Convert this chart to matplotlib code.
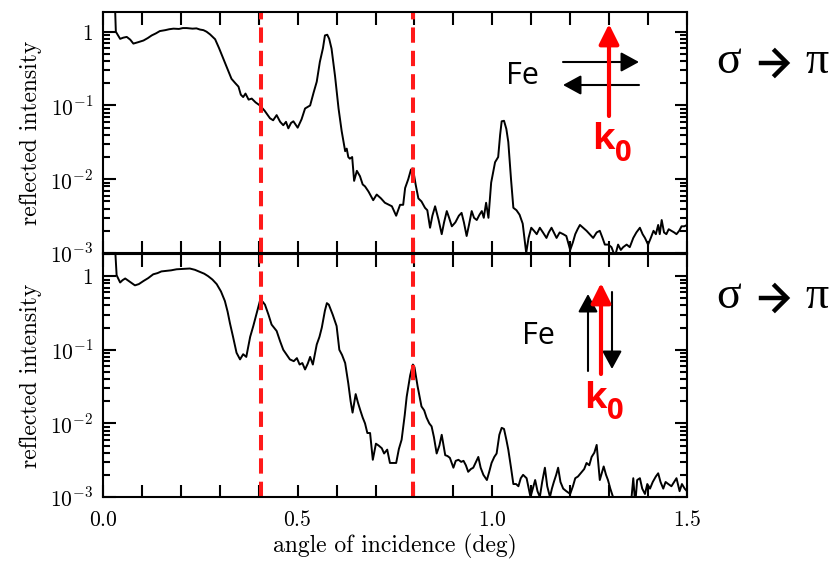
import numpy as np
import matplotlib
matplotlib.use('Agg')
import matplotlib.pyplot as plt
from matplotlib.patches import FancyArrowPatch
from matplotlib.ticker import FixedLocator, MultipleLocator, LogLocator, NullFormatter, FuncFormatter

# sigma -> pi reflectivity, magnetization perpendicular to k0 (top)
angle_top = [0.030, 0.033, 0.044, 0.052, 0.061, 0.070, 0.078, 0.090, 0.104, 0.115, 0.125, 0.136, 0.146, 0.160,
             0.170, 0.181, 0.195, 0.205, 0.215, 0.230, 0.240, 0.249, 0.258, 0.266, 0.275, 0.288, 0.298, 0.309,
             0.320, 0.330, 0.340, 0.348, 0.354, 0.360, 0.366, 0.374, 0.382, 0.392, 0.403, 0.415, 0.429, 0.437,
             0.446, 0.455, 0.463, 0.470, 0.476, 0.483, 0.489, 0.500, 0.510, 0.519, 0.532, 0.541, 0.549, 0.557,
             0.565, 0.570, 0.576, 0.581, 0.587, 0.596, 0.605, 0.613, 0.622, 0.626, 0.630, 0.634, 0.640, 0.645,
             0.652, 0.660, 0.667, 0.673, 0.682, 0.694, 0.703, 0.714, 0.724, 0.742, 0.753, 0.763, 0.771, 0.776,
             0.784, 0.791, 0.796, 0.803, 0.810, 0.818, 0.827, 0.833, 0.840, 0.846, 0.853, 0.862, 0.870, 0.876,
             0.883, 0.889, 0.896, 0.905, 0.914, 0.921, 0.927, 0.934, 0.940, 0.947, 0.953, 0.960, 0.967, 0.973,
             0.978, 0.984, 0.990, 0.997, 1.007, 1.015, 1.020, 1.024, 1.030, 1.036, 1.041, 1.048, 1.054, 1.062,
             1.070, 1.078, 1.087, 1.093, 1.100, 1.107, 1.114, 1.122, 1.130, 1.139, 1.145, 1.152, 1.158, 1.165,
             1.173, 1.182, 1.190, 1.200, 1.207, 1.213, 1.219, 1.225, 1.233, 1.242, 1.250, 1.259, 1.268, 1.276,
             1.283, 1.289, 1.298, 1.306, 1.315, 1.323, 1.330, 1.336, 1.345, 1.353, 1.362, 1.370, 1.379, 1.386,
             1.392, 1.400, 1.407, 1.414, 1.420, 1.426, 1.430, 1.435, 1.441, 1.447, 1.453, 1.460, 1.467, 1.473,
             1.480, 1.486, 1.493, 1.500]
refl_top = [3.0, 1.0, 0.80, 0.83, 0.85, 0.78, 0.69, 0.72, 0.76, 0.82, 0.89, 0.95, 1.02, 1.05,
            1.08, 1.10, 1.09, 1.12, 1.12, 1.10, 1.11, 1.07, 1.05, 1.00, 0.92, 0.79, 0.60, 0.43,
            0.31, 0.23, 0.20, 0.18, 0.14, 0.13, 0.145, 0.12, 0.124, 0.11, 0.10, 0.085, 0.067, 0.063,
            0.074, 0.060, 0.054, 0.060, 0.049, 0.058, 0.061, 0.050, 0.065, 0.091, 0.10, 0.15, 0.21, 0.39,
            0.60, 0.89, 0.91, 0.80, 0.59, 0.25, 0.091, 0.045, 0.024, 0.026, 0.020, 0.019, 0.020, 0.0095,
            0.013, 0.011, 0.0085, 0.0080, 0.0068, 0.0052, 0.0062, 0.0055, 0.0048, 0.0043, 0.0032, 0.0045, 0.0045, 0.0076,
            0.0100, 0.0135, 0.014, 0.0085, 0.0055, 0.0050, 0.0041, 0.0038, 0.0022, 0.0032, 0.0043, 0.0028, 0.0018, 0.0026,
            0.0037, 0.0030, 0.0023, 0.0026, 0.0032, 0.0035, 0.0026, 0.0017, 0.0024, 0.0037, 0.0030, 0.0028, 0.0033, 0.0037,
            0.0030, 0.0048, 0.0030, 0.0090, 0.017, 0.020, 0.040, 0.061, 0.062, 0.048, 0.032, 0.010, 0.0041, 0.0038,
            0.0033, 0.0025, 0.0010, 0.0016, 0.0022, 0.0020, 0.0018, 0.0022, 0.0019, 0.0016, 0.0019, 0.0022, 0.0019, 0.0016,
            0.0019, 0.0018, 0.0017, 0.0011, 0.0014, 0.0018, 0.0021, 0.0024, 0.0022, 0.0020, 0.0018, 0.0016, 0.0019, 0.0020,
            0.0016, 0.0013, 0.0013, 0.0012, 0.0009, 0.0013, 0.0011, 0.0012, 0.0013, 0.0012, 0.0016, 0.0019, 0.0022, 0.0018,
            0.0016, 0.0013, 0.0016, 0.0020, 0.0018, 0.0024, 0.0018, 0.0028, 0.0019, 0.0018, 0.0021, 0.0020, 0.0019, 0.0018,
            0.0020, 0.0023, 0.0023, 0.0024]

# sigma -> pi reflectivity, magnetization parallel to k0 (bottom)
angle_bot = [0.030, 0.035, 0.044, 0.050, 0.057, 0.066, 0.074, 0.082, 0.092, 0.104, 0.116, 0.129, 0.140, 0.150,
             0.164, 0.175, 0.189, 0.200, 0.212, 0.223, 0.236, 0.249, 0.260, 0.270, 0.281, 0.292, 0.303, 0.313,
             0.320, 0.326, 0.334, 0.343, 0.352, 0.360, 0.368, 0.378, 0.386, 0.395, 0.403, 0.410, 0.416, 0.425,
             0.433, 0.446, 0.455, 0.463, 0.472, 0.480, 0.490, 0.498, 0.505, 0.512, 0.519, 0.526, 0.532, 0.539,
             0.549, 0.556, 0.562, 0.570, 0.575, 0.580, 0.590, 0.600, 0.607, 0.614, 0.622, 0.630, 0.636, 0.641,
             0.649, 0.655, 0.661, 0.667, 0.673, 0.679, 0.686, 0.693, 0.701, 0.708, 0.716, 0.722, 0.730, 0.737,
             0.753, 0.760, 0.767, 0.775, 0.780, 0.789, 0.796, 0.800, 0.808, 0.818, 0.825, 0.831, 0.838, 0.844,
             0.850, 0.857, 0.864, 0.870, 0.879, 0.885, 0.891, 0.900, 0.906, 0.913, 0.920, 0.926, 0.932, 0.938,
             0.945, 0.951, 0.958, 0.964, 0.970, 0.977, 0.986, 0.992, 0.998, 1.005, 1.011, 1.018, 1.024, 1.030,
             1.036, 1.041, 1.048, 1.054, 1.061, 1.067, 1.073, 1.079, 1.088, 1.098, 1.104, 1.110, 1.116, 1.122,
             1.128, 1.135, 1.141, 1.148, 1.153, 1.158, 1.164, 1.169, 1.175, 1.182, 1.190, 1.200, 1.207, 1.213,
             1.220, 1.230, 1.236, 1.242, 1.249, 1.255, 1.262, 1.268, 1.276, 1.281, 1.286, 1.292, 1.297, 1.303,
             1.310, 1.320, 1.335, 1.345, 1.355, 1.362, 1.367, 1.372, 1.379, 1.385, 1.392, 1.398, 1.405, 1.412,
             1.420, 1.426, 1.432, 1.439, 1.445, 1.452, 1.460, 1.467, 1.473, 1.481, 1.487, 1.494, 1.500]
refl_bot = [3.0, 1.03, 0.82, 0.88, 0.93, 0.86, 0.80, 0.75, 0.78, 0.86, 0.94, 1.06, 1.10, 1.16,
            1.18, 1.20, 1.24, 1.25, 1.26, 1.27, 1.22, 1.14, 1.08, 1.00, 0.90, 0.78, 0.62, 0.46,
            0.33, 0.23, 0.15, 0.091, 0.074, 0.087, 0.080, 0.15, 0.21, 0.32, 0.46, 0.45, 0.41, 0.30,
            0.22, 0.18, 0.13, 0.10, 0.085, 0.074, 0.070, 0.077, 0.063, 0.066, 0.054, 0.065, 0.080, 0.063,
            0.118, 0.15, 0.20, 0.34, 0.43, 0.41, 0.30, 0.21, 0.10, 0.085, 0.066, 0.035, 0.020, 0.014,
            0.025, 0.019, 0.015, 0.012, 0.010, 0.0074, 0.0074, 0.0032, 0.0053, 0.0050, 0.0046, 0.0039, 0.0044, 0.0029,
            0.0029, 0.0045, 0.0060, 0.013, 0.023, 0.045, 0.063, 0.058, 0.032, 0.017, 0.015, 0.012, 0.010, 0.0091,
            0.0065, 0.0039, 0.0050, 0.0070, 0.0037, 0.0036, 0.0034, 0.0025, 0.0031, 0.0032, 0.0030, 0.0031, 0.0027, 0.0022,
            0.0024, 0.0025, 0.0030, 0.0035, 0.0025, 0.0020, 0.0017, 0.0022, 0.0029, 0.0035, 0.0039, 0.0070, 0.0087, 0.0084,
            0.0060, 0.0044, 0.0025, 0.0015, 0.0015, 0.0014, 0.0018, 0.0020, 0.0018, 0.0010, 0.0013, 0.0017, 0.0012, 0.0010,
            0.0016, 0.0025, 0.0014, 0.0010, 0.0013, 0.0016, 0.0020, 0.0025, 0.0016, 0.0013, 0.0012, 0.0011, 0.0014, 0.0018,
            0.0019, 0.0022, 0.0024, 0.0029, 0.0027, 0.0035, 0.0040, 0.0051, 0.0017, 0.0021, 0.0026, 0.0020, 0.0017, 0.0013,
            0.0010, 0.0007, 0.0007, 0.0008, 0.0007, 0.0018, 0.0008, 0.0017, 0.0018, 0.0013, 0.0011, 0.0015, 0.0013, 0.0016,
            0.0019, 0.0021, 0.0016, 0.0013, 0.0016, 0.0015, 0.0014, 0.0016, 0.0018, 0.0012, 0.0015, 0.0013, 0.0012]

bragg_angles = [0.405, 0.795]
yticks = [1e-3, 1e-2, 1e-1, 1]
ytick_labels = ['$10^{-3}$', '$10^{-2}$', '$10^{-1}$', '$1$']
xticks = [0.0, 0.5, 1.0, 1.5]

plt.rcParams['mathtext.fontset'] = 'cm'
plt.rcParams['axes.linewidth'] = 1.5

W, H = 840, 561
fig = plt.figure(figsize=(W / 100, H / 100), dpi=100)


def px(x, y):
    # figure pixel position -> figure fraction
    return (x / W, 1 - y / H)


def arrow(p0, p1, lw, color, head_length=0.55, head_width=0.3):
    fig.patches.append(FancyArrowPatch(px(*p0), px(*p1), transform=fig.transFigure,
                       arrowstyle='-|>,head_length=%g,head_width=%g' % (head_length, head_width),
                       mutation_scale=20, lw=lw, color=color, shrinkA=0, shrinkB=0))


def setup_axis(ax, ylim_top, show_xlabels):
    ax.set_yscale('log')
    ax.set_xlim(0, 1.5)
    ax.set_ylim(1e-3, ylim_top)
    ax.yaxis.set_major_locator(FixedLocator(yticks))
    ax.yaxis.set_major_formatter(FuncFormatter(lambda v, pos: ytick_labels[yticks.index(v)] if v in yticks else ''))
    ax.yaxis.set_minor_locator(LogLocator(base=10, subs=np.arange(2, 10)))
    ax.yaxis.set_minor_formatter(NullFormatter())
    ax.xaxis.set_major_locator(FixedLocator(xticks))
    ax.xaxis.set_minor_locator(MultipleLocator(0.1))
    if show_xlabels:
        ax.xaxis.set_major_formatter(FuncFormatter(lambda v, pos: '$%.1f$' % v))
    else:
        ax.xaxis.set_major_formatter(NullFormatter())
    ax.tick_params(which='both', direction='in', top=True, right=True, width=1.5, labelsize=15.5)
    ax.tick_params(axis='x', which='both', length=9)
    ax.tick_params(axis='y', which='major', length=9, pad=7)
    ax.tick_params(axis='y', which='minor', length=5)
    ax.tick_params(axis='x', which='major', pad=9)
    ax.set_ylabel('reflected intensity', fontfamily='cmr10', fontsize=17)
    ax.yaxis.set_label_coords(-0.104, 0.5)


ax1 = fig.add_axes([103 / W, 1 - 253 / H, 584 / W, 241 / H])
ax2 = fig.add_axes([103 / W, 1 - 497 / H, 584 / W, 243 / H])

for ax, ang, refl, top in [(ax1, angle_top, refl_top, 1.85), (ax2, angle_bot, refl_bot, 2.0)]:
    ax.plot(ang, refl, color='black', lw=1.4)
    for a in bragg_angles:
        ax.axvline(a, color='#ff1a1a', lw=2.9, dashes=(3.8, 2.0))
    setup_axis(ax, top, ax is ax2)

ax2.set_xlabel('angle of incidence (deg)', fontfamily='cmr10', fontsize=17, labelpad=3)

sans = 'Open Sans'
red = '#ff0000'

# top: magnetization transverse to k0
fig.text(*px(506, 84), 'Fe', fontfamily=sans, fontsize=22, ha='left', va='baseline')
arrow((563, 62), (639, 62), 1.5, 'black')
arrow((639, 85), (563, 85), 1.5, 'black')
arrow((609, 116), (609, 24), 3, red, 0.6, 0.3)
fig.text(*px(592, 149), 'k', fontfamily=sans, fontweight='bold', fontsize=26, color=red, va='baseline')
fig.text(*px(615, 161), '0', fontfamily=sans, fontweight='bold', fontsize=21, color=red, va='baseline')

# bottom: magnetization along k0
fig.text(*px(522, 344), 'Fe', fontfamily=sans, fontsize=22, ha='left', va='baseline')
arrow((588, 371), (588, 294), 1.5, 'black')
arrow((612, 292), (612, 369), 1.5, 'black')
arrow((601, 374), (601, 283), 3, red, 0.6, 0.3)
fig.text(*px(584, 408), 'k', fontfamily=sans, fontweight='bold', fontsize=26, color=red, va='baseline')
fig.text(*px(607, 419), '0', fontfamily=sans, fontweight='bold', fontsize=21, color=red, va='baseline')

# polarization channel labels
for base in [73, 308]:
    fig.text(*px(716, base), '\u03c3', fontfamily='Liberation Serif', fontsize=33, va='baseline')
    fig.text(*px(805, base), '\u03c0', fontfamily='Liberation Serif', fontsize=33, va='baseline')
    fig.patches.append(FancyArrowPatch(px(756, base - 10), px(793, base - 10),
                       transform=fig.transFigure, arrowstyle='->,head_length=0.45,head_width=0.45',
                       mutation_scale=22, lw=3.2, color='black', joinstyle='miter', capstyle='butt'))

fig.savefig('out.png', dpi=100)
